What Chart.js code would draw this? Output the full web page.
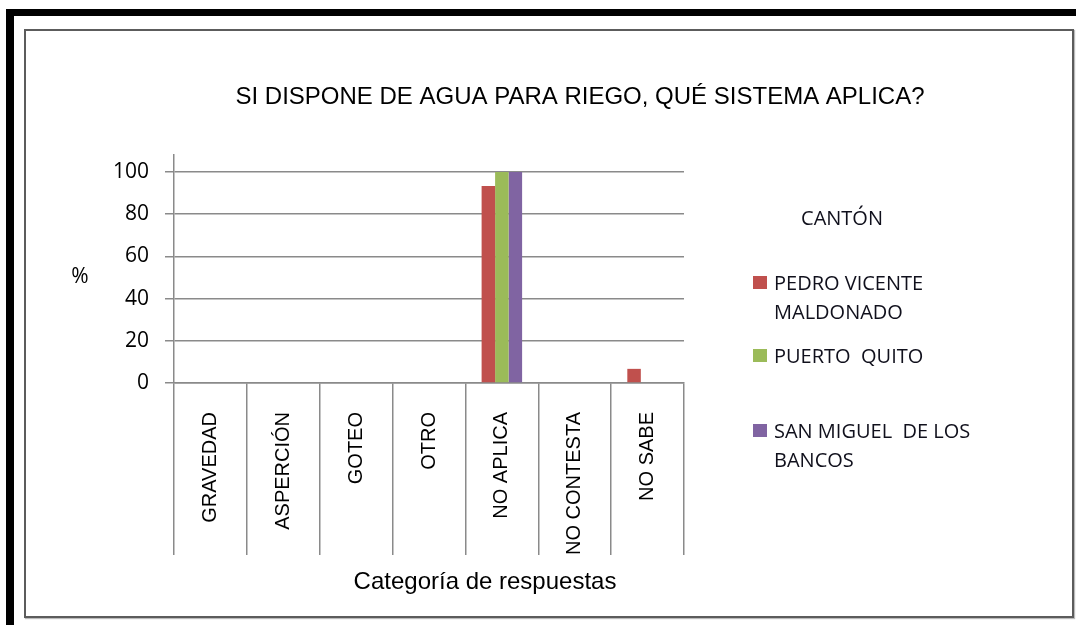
<!DOCTYPE html>
<html>
<head>
<meta charset="utf-8">
<script src="https://cdn.jsdelivr.net/npm/chart.js@4.4.0/dist/chart.umd.min.js"></script>
<style>
    body { margin: 0; background: #fff; }
    #frame { position: relative; width: 1076px; height: 625px; overflow: hidden; }
    .outer { position: absolute; left: 6px; top: 9px; width: 1080px; height: 640px; border-top: 7px solid #000; border-left: 8px solid #000; }
    .inner { position: absolute; left: 24px; top: 29px; width: 1050px; height: 589px; box-sizing: border-box; border: 2px solid #5c5c5c; box-shadow: 1px 1px 1px #bbb; }
    #riegoChart { position: absolute; left: 0; top: 0; }
</style>
</head>
<body>
<div id="frame">
    <div class="outer"></div>
    <div class="inner"></div>
    <canvas id="riegoChart" width="1076" height="625"></canvas>
</div>
<script>
// Chart data
const categories = ['GRAVEDAD', 'ASPERCIÓN', 'GOTEO', 'OTRO', 'NO APLICA', 'NO CONTESTA', 'NO SABE'];
const pedroVicente = [0, 0, 0, 0, 93.3, 0, 6.7];
const puertoQuito = [0, 0, 0, 0, 100, 0, 0];
const sanMiguel = [0, 0, 0, 0, 100, 0, 0];
const seriesNames = [['PEDRO VICENTE', 'MALDONADO'], ['PUERTO  QUITO'], ['SAN MIGUEL  DE LOS', 'BANCOS']];
const seriesColors = ['#C0504D', '#9BBB59', '#8064A2'];

const chartTitle = 'SI DISPONE DE AGUA PARA RIEGO, QUÉ SISTEMA APLICA?';
const xTitle = 'Categoría de respuestas';
const yTitle = '%';
const legendTitle = 'CANTÓN';

// Titles and legend are placed freely like in the Excel original
const textPlugin = {
    id: 'textPlugin',
    afterDraw(chart) {
        const ctx = chart.ctx;
        ctx.save();
        ctx.fillStyle = '#000';
        ctx.textBaseline = 'alphabetic';

        ctx.font = '24px "Liberation Sans", Arial, sans-serif';
        ctx.textAlign = 'center';
        ctx.fillText(chartTitle, 580, 104);
        ctx.fillText(xTitle, 485, 589);

        ctx.font = '21px "Open Sans", sans-serif';
        ctx.fillText(yTitle, 80, 283);

        // legend
        ctx.font = '20px "Open Sans", sans-serif';
        ctx.fillStyle = '#10101c';
        ctx.fillText(legendTitle, 842, 225);
        ctx.textAlign = 'left';
        const rowTops = [283, 356, 431];
        chart.data.datasets.forEach((ds, i) => {
            const y = rowTops[i];
            ctx.fillStyle = ds.backgroundColor;
            ctx.fillRect(753, y - 7, 14, 13);
            ctx.fillStyle = '#10101c';
            seriesNames[i].forEach((line, j) => {
                ctx.fillText(line, 774, y + 7 + j * 29);
            });
        });
        ctx.restore();
    }
};

const ctx = document.getElementById('riegoChart').getContext('2d');
const riegoChart = new Chart(ctx, {
    type: 'bar',
    data: {
        labels: categories,
        datasets: [
            { label: seriesNames[0].join(' '), data: pedroVicente, backgroundColor: seriesColors[0] },
            { label: seriesNames[1].join(' '), data: puertoQuito, backgroundColor: seriesColors[1] },
            { label: seriesNames[2].join(' '), data: sanMiguel, backgroundColor: seriesColors[2] }
        ]
    },
    options: {
        responsive: false,
        animation: false,
        categoryPercentage: 0.556,
        barPercentage: 1,
        layout: {
            padding: { left: 24, right: 392, top: 155, bottom: 0 }
        },
        plugins: {
            legend: { display: false },
            title: { display: false },
            tooltip: { enabled: false }
        },
        scales: {
            x: {
                afterFit: (scale) => { scale.height = 242; },
                grid: {
                    offset: true,
                    drawOnChartArea: false,
                    tickLength: 172,
                    color: '#8a8a8a',
                    lineWidth: 1.5
                },
                border: { color: '#8a8a8a', width: 1.5 },
                ticks: {
                    minRotation: 90,
                    maxRotation: 90,
                    padding: -143,
                    color: '#000',
                    font: { family: '"Liberation Sans", Arial, sans-serif', size: 20 }
                }
            },
            y: {
                min: 0,
                max: 108,
                afterFit: (scale) => { scale.width = 150; },
                grid: {
                    tickLength: 9,
                    color: '#8a8a8a',
                    lineWidth: 1.5
                },
                border: { color: '#8a8a8a', width: 1.5 },
                ticks: {
                    stepSize: 20,
                    includeBounds: false,
                    padding: 16,
                    color: '#000',
                    font: { family: '"Open Sans", sans-serif', size: 21 }
                }
            }
        }
    },
    plugins: [textPlugin]
});
</script>
</body>
</html>
